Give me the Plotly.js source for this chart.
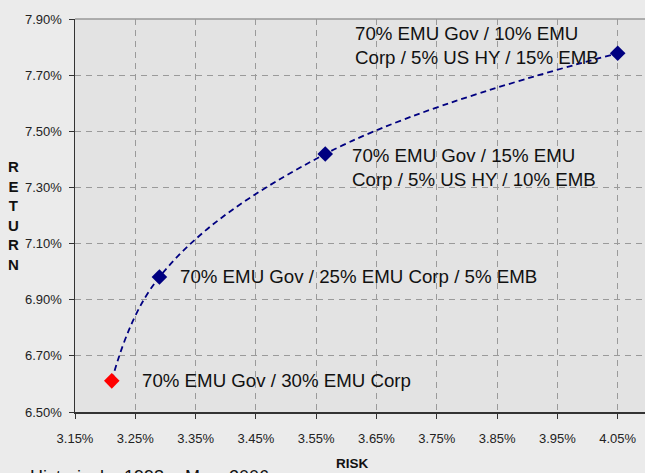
<!DOCTYPE html>
<html>
<head>
<meta charset="utf-8">
<script src="https://cdn.plot.ly/plotly-3.0.1.min.js"></script>
<style>html,body{margin:0;padding:0;background:#ebebeb;}#chart{width:645px;height:473px;}</style>
</head>
<body>
<div id="chart"></div>
<script>
// Portfolio risk / return (in %)
var portfolios = [
  "70% EMU Gov / 30% EMU Corp",
  "70% EMU Gov / 25% EMU Corp / 5% EMB",
  "70% EMU Gov / 15% EMU<br>Corp / 5% US HY / 10% EMB",
  "70% EMU Gov / 10% EMU<br>Corp / 5% US HY / 15% EMB"
];
var risk = [3.211, 3.290, 3.565, 4.050];
var ret  = [6.611, 6.981, 7.419, 7.778];
var pointColors = ["#ff0000", "#000080", "#000080", "#000080"];

var xTickVals = [3.15, 3.25, 3.35, 3.45, 3.55, 3.65, 3.75, 3.85, 3.95, 4.05];
var xTickText = ["3.15%", "3.25%", "3.35%", "3.45%", "3.55%", "3.65%", "3.75%", "3.85%", "3.95%", "4.05%"];
var yTickVals = [6.5, 6.7, 6.9, 7.1, 7.3, 7.5, 7.7, 7.9];
var yTickText = ["6.50%", "6.70%", "6.90%", "7.10%", "7.30%", "7.50%", "7.70%", "7.90%"];

var footnote = "Historical:\u00a0\u00a0 1998 -\u00a0 May\u00a0 2006";

var SANS = '"Liberation Sans", Arial, sans-serif';

var traces = [
  {x: risk, y: ret, mode: 'lines', line: {color: '#000080', width: 1.8, dash: '6px,4px', shape: 'spline', smoothing: 1.1}, hoverinfo: 'skip'},
  {x: risk, y: ret, mode: 'markers', marker: {symbol: 'diamond', size: 12, color: pointColors}}
];

var ann = [
  {x: risk[0], y: ret[0], text: portfolios[0], xanchor: 'left', xshift: 28, yshift: 0},
  {x: risk[1], y: ret[1], text: portfolios[1], xanchor: 'left', xshift: 19, yshift: 0},
  {x: risk[2], y: ret[2], text: portfolios[2], xanchor: 'left', xshift: 25, yshift: -13},
  {x: risk[3], y: ret[3], text: portfolios[3], xanchor: 'right', xshift: -17, yshift: 8}
].map(function (a) {
  a.xref = 'x'; a.yref = 'y'; a.showarrow = false; a.align = 'left'; a.yanchor = 'middle';
  a.font = {family: SANS, size: 18.7, color: '#111'};
  return a;
});
ann.push({xref: 'paper', yref: 'paper', x: -0.108, y: 0.5, xanchor: 'center', yanchor: 'middle', showarrow: false,
  text: '<b>R<br>E<br>T<br>U<br>R<br>N</b>', font: {family: SANS, size: 15, color: '#111'}});
ann.push({xref: 'paper', yref: 'paper', x: 0.487, y: -0.108, xanchor: 'center', yanchor: 'top', showarrow: false,
  text: '<b>RISK</b>', font: {family: SANS, size: 13.5, color: '#111'}});
ann.push({xref: 'paper', yref: 'paper', x: -0.083, y: -0.135, xanchor: 'left', yanchor: 'top', showarrow: false,
  text: footnote, font: {family: SANS, size: 18, color: '#111'}});

var layout = {
  width: 645, height: 473,
  margin: {l: 75, r: 0, t: 19, b: 61},
  paper_bgcolor: '#ebebeb', plot_bgcolor: '#e3e3e3',
  showlegend: false,
  xaxis: {
    range: [3.15, 4.0953], tickvals: xTickVals, ticktext: xTickText,
    showgrid: true, gridcolor: '#9a9a9a', griddash: '6px,5px', gridwidth: 1,
    showline: true, linecolor: '#333', linewidth: 1.5, zeroline: false,
    ticks: 'outside', ticklen: 5, tickcolor: '#333', ticklabelstandoff: 9,
    tickfont: {family: SANS, size: 13, color: '#222'}
  },
  yaxis: {
    range: [6.5, 7.9], tickvals: yTickVals, ticktext: yTickText,
    showgrid: true, gridcolor: '#9a9a9a', griddash: '6px,5px', gridwidth: 1,
    showline: true, linecolor: '#333', linewidth: 1.5, zeroline: false,
    ticks: 'outside', ticklen: 5, tickcolor: '#333', ticklabelstandoff: 4,
    tickfont: {family: SANS, size: 13, color: '#222'}
  },
  shapes: [
    {type: 'line', xref: 'paper', yref: 'paper', x0: 0, x1: 1, y0: 1, y1: 1, line: {color: '#999', width: 1.5}}
  ],
  annotations: ann
};

Plotly.newPlot('chart', traces, layout, {staticPlot: true, displayModeBar: false});
</script>
</body>
</html>
